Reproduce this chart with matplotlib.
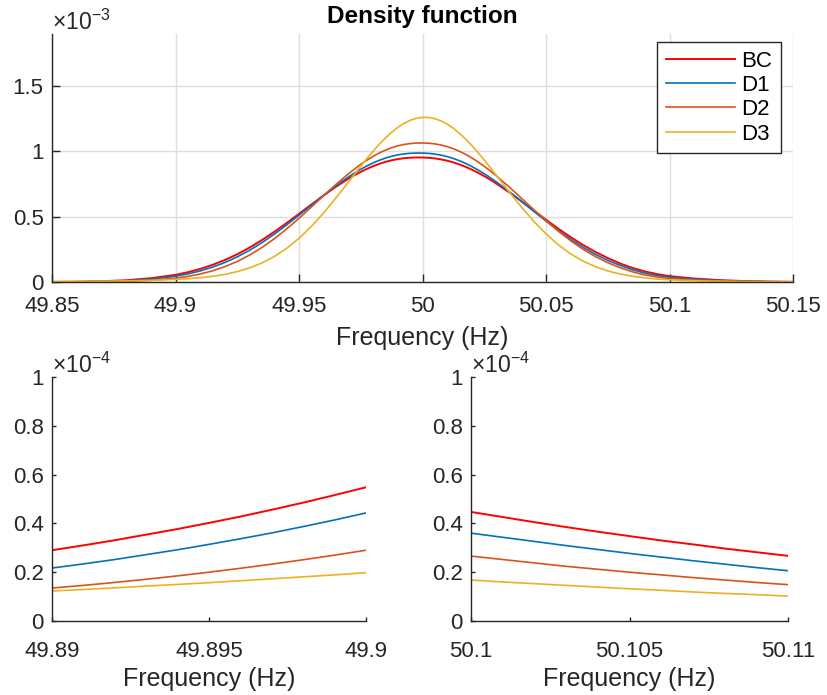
import numpy as np
import matplotlib
matplotlib.use('Agg')
import matplotlib.pyplot as plt
from matplotlib.ticker import FuncFormatter

plt.rcParams['font.family'] = ['Liberation Sans', 'DejaVu Sans']
plt.rcParams['mathtext.fontset'] = 'custom'
plt.rcParams['mathtext.rm'] = 'Liberation Sans'
plt.rcParams['mathtext.it'] = 'Liberation Sans:italic'

# ---------------- data ----------------
series_names = ['BC', 'D1', 'D2', 'D3']

# main panel (values in units of 1e-3)
freq_main = [49.85, 49.86, 49.87, 49.88, 49.89, 49.90,
             49.905, 49.91, 49.915, 49.92, 49.925, 49.93, 49.935, 49.94, 49.945, 49.95,
             49.955, 49.96, 49.965,
             49.97, 49.9725, 49.975, 49.9775, 49.98, 49.9825, 49.985, 49.9875, 49.99,
             49.9925, 49.995, 49.9975, 50.00, 50.0025, 50.005, 50.0075, 50.01, 50.0125,
             50.015, 50.0175, 50.02, 50.0225, 50.025, 50.0275, 50.03,
             50.035, 50.04, 50.045, 50.05, 50.055, 50.06, 50.065, 50.07, 50.075, 50.08,
             50.085, 50.09, 50.095, 50.10, 50.11, 50.12, 50.13, 50.14, 50.15]
bc_main = [0.0009, 0.0023, 0.0058, 0.0133, 0.0290, 0.0548,
           0.0751, 0.1002, 0.1312, 0.1688, 0.2129, 0.2639, 0.3214, 0.3844, 0.4519, 0.5223,
           0.5936, 0.6637, 0.7303,
           0.7910, 0.8185, 0.8439, 0.8669, 0.8873, 0.9051, 0.9202, 0.9323, 0.9417,
           0.9483, 0.9523, 0.9540, 0.9537, 0.9514, 0.9467, 0.9393, 0.9292, 0.9162,
           0.9004, 0.8819, 0.8607, 0.8370, 0.8110, 0.7829, 0.7528,
           0.6881, 0.6192, 0.5479, 0.4770, 0.4082, 0.3434, 0.2839, 0.2305, 0.1838, 0.1420,
           0.1080, 0.0810, 0.0605, 0.0447, 0.0267, 0.0147, 0.0074, 0.0035, 0.0016]
d1_main = [0.0005, 0.0014, 0.0038, 0.0094, 0.0217, 0.0443,
           0.0620, 0.0849, 0.1138, 0.1496, 0.1928, 0.2434, 0.3016, 0.3666, 0.4373, 0.5119,
           0.5885, 0.6646, 0.7375,
           0.8046, 0.8353, 0.8637, 0.8893, 0.9123, 0.9324, 0.9493, 0.9631, 0.9738,
           0.9813, 0.9859, 0.9880, 0.9877, 0.9853, 0.9800, 0.9719, 0.9607, 0.9461,
           0.9287, 0.9080, 0.8845, 0.8582, 0.8293, 0.7983, 0.7652,
           0.6942, 0.6191, 0.5423, 0.4667, 0.3942, 0.3268, 0.2659, 0.2120, 0.1659, 0.1273,
           0.0940, 0.0680, 0.0497, 0.0360, 0.0206, 0.0110, 0.0053, 0.0024, 0.0010]
d2_main = [0.0002, 0.0007, 0.0021, 0.0056, 0.0135, 0.0290,
           0.0426, 0.0612, 0.0858, 0.1176, 0.1575, 0.2063, 0.2643, 0.3313, 0.4065, 0.4880,
           0.5742, 0.6620, 0.7478,
           0.8289, 0.8663, 0.9014, 0.9336, 0.9627, 0.9883, 1.0103, 1.0286, 1.0431,
           1.0537, 1.0607, 1.0643, 1.0650, 1.0631, 1.0581, 1.0495, 1.0372, 1.0210,
           1.0011, 0.9774, 0.9503, 0.9197, 0.8863, 0.8502, 0.8116,
           0.7293, 0.6426, 0.5550, 0.4698, 0.3893, 0.3159, 0.2508, 0.1948, 0.1480, 0.1099,
           0.0780, 0.0540, 0.0385, 0.0266, 0.0149, 0.0070, 0.0030, 0.0012, 0.0005]
d3_main = [0.0027, 0.0041, 0.0059, 0.0086, 0.0123, 0.0198,
           0.0252, 0.0328, 0.0436, 0.0586, 0.0795, 0.1079, 0.1459, 0.1954, 0.2578, 0.3346,
           0.4256, 0.5300, 0.6446,
           0.7657, 0.8268, 0.8872, 0.9461, 1.0024, 1.0552, 1.1038, 1.1470, 1.1845,
           1.2152, 1.2385, 1.2540, 1.2614, 1.2605, 1.2514, 1.2343, 1.2095, 1.1775,
           1.1389, 1.0944, 1.0449, 0.9913, 0.9343, 0.8752, 0.8145,
           0.6926, 0.5747, 0.4660, 0.3693, 0.2848, 0.2150, 0.1597, 0.1171, 0.0847, 0.0611,
           0.0437, 0.0316, 0.0229, 0.0168, 0.0102, 0.0060, 0.0034, 0.0019, 0.0010]
main_scale = 1e-3

# lower-left zoom (values in units of 1e-4)
freq_left = [49.890, 49.891, 49.892, 49.893, 49.894, 49.895, 49.896, 49.897, 49.898, 49.899, 49.900]
bc_left = [0.290, 0.310, 0.331, 0.354, 0.377, 0.402, 0.428, 0.456, 0.485, 0.516, 0.548]
d1_left = [0.217, 0.234, 0.252, 0.272, 0.292, 0.314, 0.337, 0.361, 0.387, 0.414, 0.443]
d2_left = [0.135, 0.146, 0.158, 0.171, 0.185, 0.200, 0.216, 0.233, 0.251, 0.270, 0.290]
d3_left = [0.123, 0.129, 0.136, 0.143, 0.150, 0.157, 0.165, 0.173, 0.181, 0.189, 0.198]

# lower-right zoom (values in units of 1e-4)
freq_right = [50.100, 50.101, 50.102, 50.103, 50.104, 50.105, 50.106, 50.107, 50.108, 50.109, 50.110]
bc_right = [0.447, 0.426, 0.405, 0.385, 0.366, 0.348, 0.330, 0.314, 0.297, 0.282, 0.267]
d1_right = [0.360, 0.343, 0.326, 0.309, 0.293, 0.277, 0.262, 0.247, 0.233, 0.219, 0.206]
d2_right = [0.266, 0.252, 0.238, 0.224, 0.212, 0.200, 0.189, 0.178, 0.168, 0.158, 0.149]
d3_right = [0.168, 0.160, 0.153, 0.146, 0.139, 0.132, 0.126, 0.119, 0.113, 0.108, 0.102]
zoom_scale = 1e-4

main_xticks = [49.85, 49.9, 49.95, 50, 50.05, 50.1, 50.15]
main_yticks = [0, 0.5, 1, 1.5]
left_xticks = [49.89, 49.895, 49.9]
right_xticks = [50.1, 50.105, 50.11]
zoom_yticks = [0, 0.2, 0.4, 0.6, 0.8, 1]

# ---------------- style ----------------
colors = ['#ff0000', '#0072bd', '#d95319', '#edb120']
widths = [1.4, 1.2, 1.2, 1.2]
axcol = '#262626'
TICK_FS = 16
LABEL_FS = 18

fig = plt.figure(figsize=(8.27, 6.95), dpi=100)
W, H = 827, 695


def px_axes(l, t, r, b):
    return fig.add_axes([l / W, 1 - b / H, (r - l) / W, (b - t) / H])


def style(ax, ticklen, xpad):
    for s in ['top', 'right']:
        ax.spines[s].set_visible(False)
    for s in ['left', 'bottom']:
        ax.spines[s].set_color(axcol)
        ax.spines[s].set_linewidth(1.0)
    ax.tick_params(direction='in', length=ticklen, width=1.0, color=axcol,
                   labelcolor=axcol, labelsize=TICK_FS, pad=6)
    ax.tick_params(axis='x', pad=xpad)
    ax.xaxis.set_major_formatter(FuncFormatter(lambda v, p: f'{v:g}'))


# top panel
ax = px_axes(52, 34, 793, 282)
main_series = [bc_main, d1_main, d2_main, d3_main]
for name, vals, c, lw in zip(series_names, main_series, colors, widths):
    ax.plot(freq_main, np.array(vals) * main_scale, color=c, lw=lw, label=name)
ax.set_xlim(49.85, 50.15)
ax.set_ylim(0, 1.9e-3)
ax.set_xticks(main_xticks)
ax.set_yticks([v * main_scale for v in main_yticks])
style(ax, 5.5, 10.4)
ax.yaxis.set_major_formatter(FuncFormatter(lambda v, p: f'{v / main_scale:g}'))
ax.grid(True, color='#dedede', lw=1.0)
ax.set_axisbelow(True)
ax.set_xlabel('Frequency (Hz)', fontsize=LABEL_FS, color=axcol, labelpad=6.5)
ax.set_title('Density function', fontsize=17.5, fontweight='bold', color='black', pad=8)
ax.annotate(r'$\times10^{-3}$', xy=(0, 1), xycoords='axes fraction', xytext=(0, 3),
            textcoords='offset points', ha='left', va='baseline', fontsize=16.5, color=axcol)
leg = ax.legend(loc='upper right', bbox_to_anchor=(0.9838, 0.969), borderaxespad=0,
                fontsize=TICK_FS, handlelength=3.1, handletextpad=0.3, labelspacing=0.15,
                borderpad=0.4, fancybox=False, framealpha=1)
leg.get_frame().set_edgecolor(axcol)
leg.get_frame().set_linewidth(1.0)

# bottom panels
panels = [
    ((52, 377, 366, 621), freq_left, [bc_left, d1_left, d2_left, d3_left], left_xticks),
    ((471, 377, 788, 621), freq_right, [bc_right, d1_right, d2_right, d3_right], right_xticks),
]
for box, fx, sers, xt in panels:
    a = px_axes(*box)
    for name, vals, c, lw in zip(series_names, sers, colors, widths):
        a.plot(fx, np.array(vals) * zoom_scale, color=c, lw=lw)
    a.set_xlim(fx[0], fx[-1])
    a.set_ylim(0, 1e-4)
    a.set_xticks(xt)
    a.set_yticks([v * zoom_scale for v in zoom_yticks])
    style(a, 3, 14.2)
    a.yaxis.set_major_formatter(FuncFormatter(lambda v, p: f'{v / zoom_scale:g}'))
    a.set_xlabel('Frequency (Hz)', fontsize=LABEL_FS, color=axcol, labelpad=3.6)
    a.annotate(r'$\times10^{-4}$', xy=(0, 1), xycoords='axes fraction', xytext=(0, 3),
               textcoords='offset points', ha='left', va='baseline', fontsize=16.5, color=axcol)

fig.savefig('out.png', dpi=100, facecolor='white')
